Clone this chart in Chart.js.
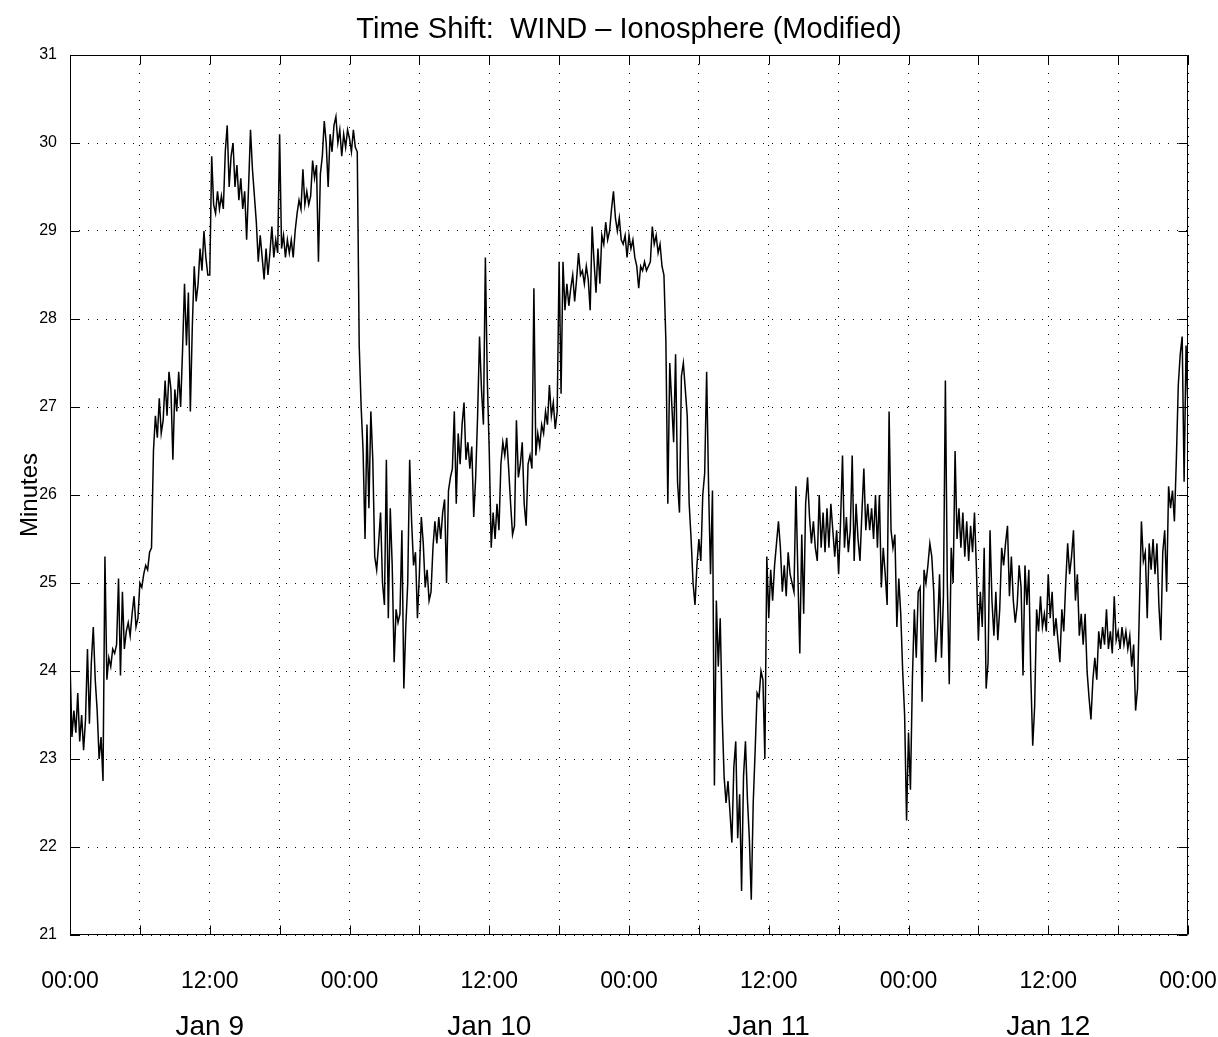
<!DOCTYPE html>
<html>
<head>
<meta charset="utf-8">
<title>Time Shift: WIND - Ionosphere (Modified)</title>
<script src="https://cdn.jsdelivr.net/npm/chart.js@4.4.1/dist/chart.umd.min.js"></script>
<style>
  html, body { margin: 0; padding: 0; background: #fff; }
  #wrap { position: relative; width: 1218px; height: 1037px; }
</style>
</head>
<body>
<div id="wrap"><canvas id="shiftChart"></canvas></div>
<script>
// ==== Data: one value every 10 minutes from Jan 9 00:00 ====
const sampleStepHours = 1 / 6;

const jan9 = [
  24.1, 23.25, 23.55, 23.3, 23.75, 23.2,
  23.5, 23.1, 23.45, 24.25, 23.4, 24.1,
  24.5, 23.9, 23.55, 23.0, 23.25, 22.75,
  25.3, 23.9, 24.15, 24.05, 24.25, 24.2,
  24.3, 25.05, 23.95, 24.9, 24.25, 24.45,
  24.55, 24.4, 24.65, 24.85, 24.5, 24.6,
  25.0, 24.95, 25.1, 25.2, 25.15, 25.35,
  25.4, 26.5, 26.9, 26.65, 27.1, 26.7,
  26.85, 27.3, 26.9, 27.4, 27.2, 26.4,
  27.2, 26.95, 27.4, 27.0, 27.65, 28.4,
  27.7, 28.3, 26.95, 27.9, 28.6, 28.2,
  28.4, 28.8, 28.55, 29.0, 28.7, 28.5,
  28.5, 29.85, 29.3, 29.2, 29.45, 29.25,
  29.4, 29.25, 29.9, 30.2, 29.5, 29.85,
  30.0, 29.5, 29.75, 29.35, 29.6, 29.25,
  29.45, 28.9, 29.5, 30.15, 29.7, 29.4,
  29.1, 28.65, 28.95, 28.7, 28.45, 28.8,
  28.5, 28.75, 29.05, 28.7, 28.9, 28.75,
  30.1, 28.8, 28.95, 28.7, 28.9, 28.75,
  28.9, 28.7, 29.0, 29.2, 29.35, 29.25,
  29.7, 29.3, 29.45, 29.3, 29.4, 29.8,
  29.6, 29.75, 28.65, 29.65, 29.85, 30.25,
  30.0, 29.5, 30.1, 29.9, 30.2, 30.3,
  30.0, 30.15, 29.85, 30.1, 29.95, 30.15
];

const jan10 = [
  30.05, 29.9, 30.15, 29.95, 29.9, 27.7,
  27.0, 26.5, 25.5, 26.8, 25.85, 26.95,
  26.4, 25.3, 25.15, 25.45, 25.8, 25.0,
  24.75, 26.4, 24.6, 25.85, 25.2, 24.1,
  24.7, 24.55, 24.65, 25.6, 23.8, 24.5,
  25.0, 26.4, 25.7, 25.2, 25.35, 24.6,
  25.1, 25.75, 25.45, 24.95, 25.15, 24.8,
  24.9, 25.4, 25.7, 25.45, 25.75, 25.5,
  25.8, 25.95, 25.0, 26.05, 26.2, 26.3,
  26.95, 25.9, 26.7, 26.35, 26.8, 27.05,
  26.4, 26.6, 26.3, 26.55, 25.75, 26.2,
  26.9, 27.8, 27.2, 26.8, 28.7, 27.3,
  26.5, 25.4, 25.8, 25.5, 25.9, 25.6,
  26.35, 26.6, 26.45, 26.65, 26.3, 25.9,
  25.55, 25.65, 26.85, 26.2, 26.35, 26.6,
  25.9, 25.65, 26.35, 26.45, 26.3, 28.35,
  26.45, 26.7, 26.55, 26.8, 26.7, 26.95,
  26.8, 27.25, 26.9, 27.05, 26.75, 26.95,
  28.65, 27.15, 28.65, 28.1, 28.4, 28.15,
  28.35, 28.5, 28.2, 28.45, 28.75, 28.5,
  28.55, 28.4, 28.6, 28.45, 28.1, 29.05,
  28.65, 28.3, 28.8, 28.4, 28.95, 28.85,
  29.1, 28.9, 29.0, 29.25, 29.45, 29.15,
  29.0, 29.15, 28.9, 28.85, 28.95, 28.7
];

const jan11 = [
  28.95, 28.8, 28.9, 28.7, 28.6, 28.35,
  28.6, 28.55, 28.65, 28.55, 28.6, 28.65,
  29.05, 28.85, 28.95, 28.75, 28.85, 28.6,
  28.5, 27.75, 25.9, 27.5, 27.05, 26.6,
  27.6, 26.15, 25.8, 27.35, 27.5, 27.2,
  26.9, 25.9, 25.5, 25.0, 24.75, 25.2,
  25.5, 25.25, 26.0, 26.25, 27.4, 26.1,
  25.1, 26.05, 22.7, 24.8, 24.05, 24.6,
  23.5, 22.8, 22.5, 22.75, 22.4, 22.05,
  22.9, 23.2, 22.1, 22.6, 21.5, 22.8,
  23.2, 22.55, 22.1, 21.4, 22.5, 23.1,
  23.75, 23.7, 24.0, 23.9, 23.0, 25.3,
  24.6, 25.15, 24.8, 25.2, 25.45, 25.7,
  25.4, 24.9, 25.2, 24.85, 25.35, 25.1,
  25.0, 24.9, 26.1, 25.1, 24.2, 25.55,
  24.65, 25.9, 26.2, 25.75, 25.45, 25.7,
  25.4, 25.25, 26.0, 25.4, 25.8, 25.35,
  25.85, 25.4, 25.9, 25.6, 25.3, 25.6,
  25.1, 25.7, 26.45, 25.4, 25.75, 25.35,
  25.6, 26.45, 25.25, 25.9, 25.5, 25.25,
  25.8, 26.3, 25.6, 25.9, 25.6, 25.85,
  25.5, 26.0, 25.4, 26.0, 24.95, 25.4,
  25.1, 24.75, 26.95, 25.6, 25.4, 25.55,
  24.5, 25.05, 24.65, 24.0, 23.5, 22.3
];

const jan12 = [
  23.3, 22.65, 23.9, 24.7, 24.15, 24.9,
  24.95, 23.65, 25.15, 25.0, 25.2, 25.45,
  25.3, 24.9, 24.1, 24.5, 25.1, 24.15,
  24.85, 27.3, 25.0, 23.85, 25.4, 25.0,
  26.5, 25.5, 25.85, 25.4, 25.8, 25.3,
  25.7, 25.25, 25.65, 25.35, 25.8, 25.15,
  24.35, 24.9, 24.5, 25.4, 23.8, 24.1,
  25.6, 24.8, 24.4, 24.9, 24.35, 24.7,
  25.4, 25.2, 25.45, 25.65, 24.85, 25.3,
  24.8, 24.55, 24.75, 25.2, 24.95, 23.95,
  25.2, 24.75, 25.15, 23.95, 23.15, 23.6,
  24.7, 24.45, 24.85, 24.5, 24.65, 24.45,
  25.1, 24.6, 24.9, 24.4, 24.6, 24.35,
  24.1, 24.7, 24.45, 25.0, 25.45, 25.1,
  25.3, 25.6, 24.8, 25.1, 24.4, 24.65,
  24.3, 24.65, 24.0, 23.7, 23.45, 23.9,
  24.15, 23.9, 24.45, 24.25, 24.5, 24.3,
  24.7, 24.25, 24.45, 24.2, 24.85, 24.35,
  24.45, 24.25, 24.5, 24.3, 24.45, 24.25,
  24.4, 24.05, 24.3, 23.55, 23.8, 24.75,
  25.7, 25.25, 25.35, 24.6, 25.45, 25.15,
  25.5, 25.1, 25.45, 24.75, 24.35, 25.35,
  25.6, 24.9, 26.1, 25.85, 26.05, 25.7,
  26.4, 27.25, 27.6, 27.8, 26.15, 27.7,
  26.95
];

// tick labels for the 6-hour ticks (cycle of one day) and the day names under the noon ticks
const clockLabels = ['00:00', '', '12:00', ''];
const dayLabels = ['Jan 9', 'Jan 10', 'Jan 11', 'Jan 12'];
const dayLabelHours = [12, 36, 60, 84];

// ==== Chart ====
const fontFamily = "'Liberation Sans', Arial, Helvetica, sans-serif";
Chart.defaults.font.family = fontFamily;
Chart.defaults.color = '#000';

const allMinutes = jan9.concat(jan10, jan11, jan12);
const points = allMinutes.map((v, i) => ({ x: i * sampleStepHours, y: v }));

// box round the plot, inward ticks on all four sides, day names under the axis
const matlabFrame = {
  id: 'matlabFrame',
  afterDraw(chart) {
    const { ctx, chartArea: a, scales: { x, y } } = chart;
    const L = Math.round(a.left) + 0.5;
    const R = Math.round(a.right) - 0.5;
    const T = Math.round(a.top) + 0.5;
    const B = Math.round(a.bottom) - 0.5;
    const tickLen = 9;

    ctx.save();
    ctx.strokeStyle = '#000';
    ctx.lineWidth = 1;
    ctx.beginPath();
    ctx.rect(L, T, R - L, B - T);

    x.ticks.forEach(t => {
      const px = Math.round(x.getPixelForValue(t.value)) + 0.5;
      ctx.moveTo(px, B); ctx.lineTo(px, B - tickLen);
      ctx.moveTo(px, T); ctx.lineTo(px, T + tickLen);
    });
    y.ticks.forEach(t => {
      const py = Math.round(y.getPixelForValue(t.value)) + 0.5;
      ctx.moveTo(L, py); ctx.lineTo(L + tickLen, py);
      ctx.moveTo(R, py); ctx.lineTo(R - tickLen, py);
    });
    ctx.stroke();

    ctx.fillStyle = '#000';
    ctx.font = `28px ${fontFamily}`;
    ctx.textAlign = 'center';
    ctx.textBaseline = 'middle';
    dayLabels.forEach((label, i) => {
      ctx.fillText(label, x.getPixelForValue(dayLabelHours[i]), a.bottom + 92);
    });
    ctx.restore();
  }
};

const ctx = document.getElementById('shiftChart');
new Chart(ctx, {
  type: 'line',
  data: {
    datasets: [{
      data: points,
      borderColor: '#000',
      borderWidth: 1.5,
      pointRadius: 0,
      tension: 0,
      fill: false
    }]
  },
  options: {
    animation: false,
    responsive: true,
    maintainAspectRatio: false,
    layout: { padding: { left: 0, right: 30, top: 0, bottom: 0 } },
    plugins: {
      legend: { display: false },
      tooltip: { enabled: false },
      title: {
        display: true,
        fullSize: false,
        text: 'Time Shift:  WIND \u2013 Ionosphere (Modified)',
        color: '#000',
        font: { size: 29, weight: 'normal' },
        padding: { top: 13, bottom: 7.2 }
      }
    },
    scales: {
      x: {
        type: 'linear',
        min: 0,
        max: 96,
        afterFit(scale) {
          scale.height = 102;
          scale.paddingLeft = 0;
          scale.paddingRight = 0;
        },
        grid: { color: '#000', lineWidth: 1, drawTicks: false },
        border: { display: false, dash: [1, 8] },
        ticks: {
          stepSize: 6,
          autoSkip: false,
          maxRotation: 0,
          padding: 33,
          font: { size: 23 },
          callback: (value) => clockLabels[Math.round(value / 6) % 4]
        }
      },
      y: {
        min: 21,
        max: 31,
        afterFit(scale) { scale.width = 70; },
        grid: { color: '#000', lineWidth: 1, drawTicks: false },
        border: { display: false, dash: [1, 8] },
        ticks: { stepSize: 1, padding: 13, font: { size: 16 } },
        title: {
          display: true,
          text: 'Minutes',
          color: '#000',
          font: { size: 24 },
          padding: { top: 16, bottom: 0 }
        }
      }
    }
  },
  plugins: [matlabFrame]
});
</script>
</body>
</html>
